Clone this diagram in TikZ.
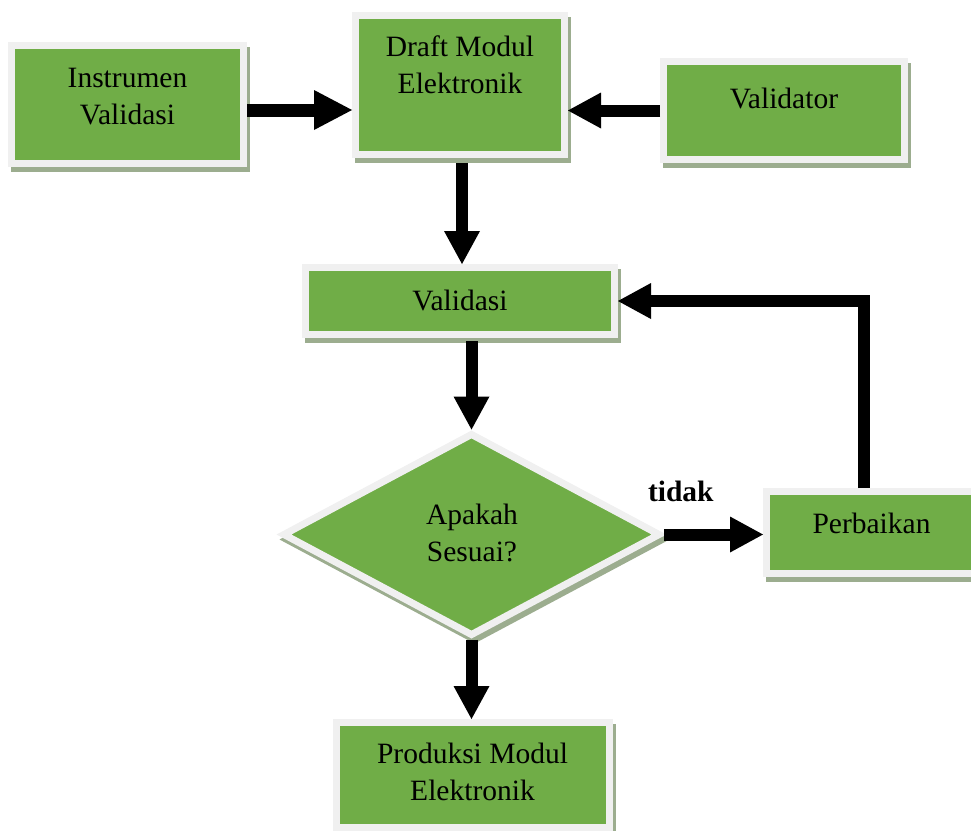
\documentclass[tikz,border=0pt]{standalone}
\usepackage{fontspec}
\setmainfont{Liberation Serif}
\usetikzlibrary{arrows.meta,shapes.geometric,calc}

\definecolor{boxgreen}{HTML}{70AD47}
\definecolor{boxframe}{HTML}{F0F0F0}
\definecolor{boxshadow}{HTML}{9CAD8F}

\tikzset{
  % green card with a light frame and a soft offset shadow
  card/.style={draw=boxframe, line width=7pt, fill=boxgreen,
    inner sep=0pt, outer sep=3.5pt, line join=miter,
    preaction={draw=boxshadow, fill=boxshadow, line width=7pt,
      transform canvas={shift={(3pt,-5pt)}}}},
  txt/.style={font=\fontsize{29.5}{37}\selectfont, align=center, inner sep=0pt},
  tidaklabel/.style={font=\fontsize{29.5}{37}\selectfont\bfseries,
    inner sep=0pt, anchor=base},
  flow/.style={line width=12pt, line join=miter,
    -{Triangle[width=36pt,length=33pt,line width=0pt]}},
  bigflow/.style={flow, line width=13pt,
    -{Triangle[width=40pt,length=38pt,line width=0pt]}},
}

\begin{document}
\begin{tikzpicture}[x=1pt,y=-1pt]
\useasboundingbox (0,0) rectangle (971,830);
\clip (0,0) rectangle (971,830);

% boxes
\node[card, minimum width=232pt, minimum height=118pt] (instr) at (127.5,104.5) {};
\node[card, minimum width=209pt, minimum height=139pt] (draft) at (460,85) {};
\node[card, minimum width=241pt, minimum height=98pt]  (valr)  at (784,110.5) {};
\node[card, minimum width=309pt, minimum height=67pt]  (valid) at (460,301) {};
\node[card, diamond, minimum width=378pt, minimum height=203pt] (dia) at (471.5,534.5) {};
\node[card, minimum width=215pt, minimum height=82pt]  (perb)  at (874,532.5) {};
\node[card, minimum width=273pt, minimum height=105pt] (prod)  at (473,775) {};

% texts
\node[txt] (instr-t) at (127.5,96.5) {Instrumen\\Validasi};
\node[txt] (draft-t) at (460,64.5) {Draft Modul\\Elektronik};
\node[txt] (valr-t)  at (784,98) {Validator};
\node[txt] (valid-t) at (460,300) {Validasi};
\node[txt] (dia-t)   at (472,533) {Apakah\\Sesuai?};
\node[txt] (perb-t)  at (871.5,523) {Perbaikan};
\node[txt] (prod-t)  at (472.5,772) {Produksi Modul\\Elektronik};

% connectors
\draw[bigflow] ([yshift=-5.5pt]instr.east) -- ([yshift=-5.5pt]instr.east -| draft.west);
\draw[flow] (valr.west) -- (valr.west -| draft.east);
\draw[flow] ([xshift=2pt,yshift=-5pt]draft.south) -- ([xshift=2pt]draft.south |- valid.north);
\draw[flow] ($(valid.south -| dia.north)+(0,3)$) -- (dia.north);
\draw[flow] (dia.east) -- (dia.east -| perb.west)
  node[tidaklabel, pos=0.17, yshift=33pt] (tidak) {tidak};
\draw[flow] (dia.south) -- (dia.south |- prod.north);
\draw[flow] ([xshift=-10pt]perb.north) |- (valid.east);
\end{tikzpicture}
\end{document}
